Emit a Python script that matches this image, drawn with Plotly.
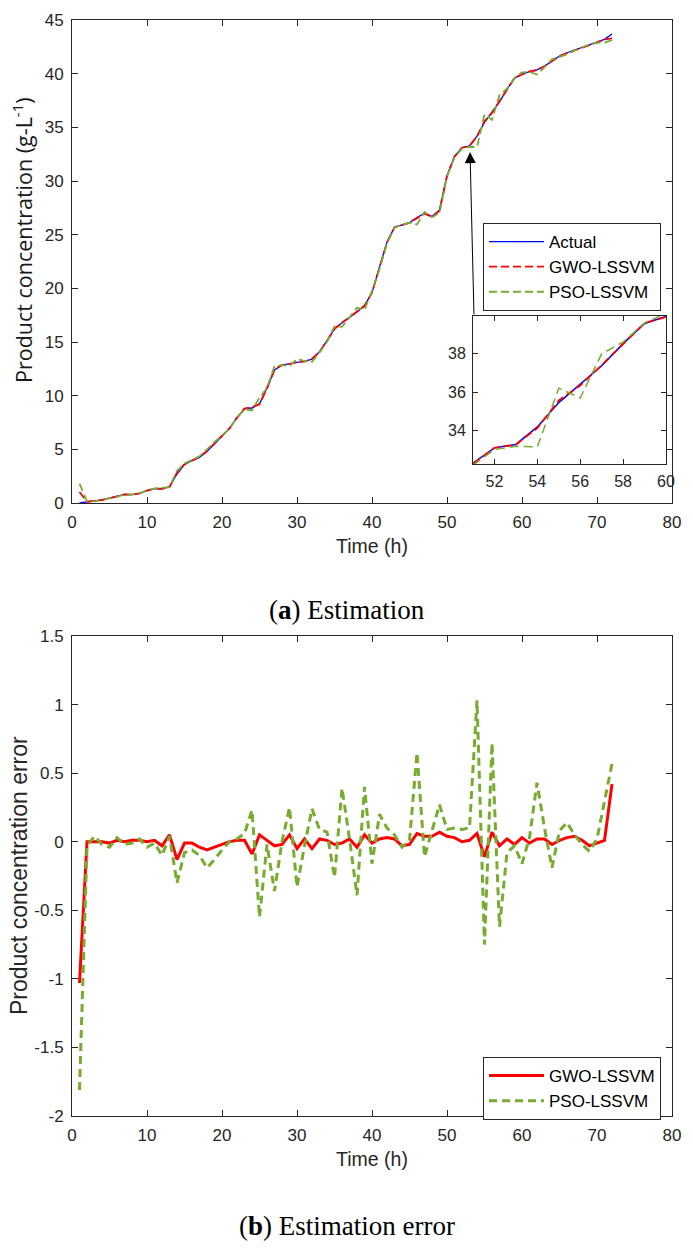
import plotly.graph_objects as go

# ---------------- data ----------------
hours = list(range(1, 73))

actual = [0.0, 0.12, 0.2, 0.28, 0.43, 0.6, 0.8, 0.78, 0.9, 1.15,
          1.34, 1.3, 1.52, 2.7, 3.6, 3.95, 4.25, 4.8, 5.55, 6.2,
          6.95, 7.95, 8.8, 8.85, 9.25, 10.7, 12.4, 12.85, 13.0, 13.1,
          13.2, 13.4, 14.1, 15.1, 16.2, 16.8, 17.3, 17.8, 18.4, 19.6,
          22.0, 24.3, 25.7, 25.9, 26.1, 26.6, 27.0, 26.7, 27.3, 30.5,
          32.3, 33.1, 33.28, 34.19, 35.46, 36.42, 37.38, 38.53, 39.58, 39.95,
          40.2, 40.35, 40.7, 41.15, 41.65, 41.95, 42.2, 42.4, 42.65, 42.9,
          43.2, 43.7]

gwo_pred = [1.03, 0.12, 0.2, 0.28, 0.44, 0.59, 0.8, 0.77, 0.89, 1.15,
            1.33, 1.33, 1.47, 2.83, 3.61, 3.96, 4.29, 4.86, 5.59, 6.22,
            6.95, 7.94, 8.79, 8.94, 9.2, 10.69, 12.43, 12.87, 12.95, 13.15,
            13.18, 13.45, 14.08, 15.09, 16.22, 16.81, 17.28, 17.84, 18.35, 19.61,
            21.98, 24.27, 25.68, 25.93, 26.12, 26.54, 26.96, 26.66, 27.23, 30.46,
            32.27, 33.1, 33.27, 34.13, 35.57, 36.35, 37.41, 38.51, 39.6, 39.92,
            40.21, 40.33, 40.68, 41.17, 41.64, 41.92, 42.16, 42.39, 42.68, 42.91,
            43.19, 43.28]

pso_pred = [1.81, 0.15, 0.16, 0.3, 0.47, 0.57, 0.82, 0.79, 0.88, 1.19,
            1.35, 1.4, 1.48, 3.0, 3.68, 4.01, 4.35, 4.99, 5.68, 6.26,
            6.95, 7.93, 8.74, 8.62, 9.8, 10.72, 12.76, 12.85, 12.75, 13.43,
            13.23, 13.16, 14.01, 15.03, 16.46, 16.41, 17.28, 18.19, 18.0, 19.76,
            21.8, 24.2, 25.65, 25.94, 26.09, 25.95, 27.11, 26.62, 27.03, 30.41,
            32.2, 33.01, 33.18, 33.16, 36.21, 35.7, 38.0, 38.61, 39.61, 40.11,
            40.17, 39.92, 40.6, 41.34, 41.57, 41.81, 42.15, 42.42, 42.72, 42.88,
            42.9, 43.13]

gwo_err = [-1.03, 0.0, 0.0, 0.0, -0.01, 0.01, 0.0, 0.01, 0.01, 0.0,
           0.01, -0.03, 0.05, -0.13, -0.01, -0.01, -0.04, -0.06, -0.04, -0.02,
           0.0, 0.01, 0.01, -0.09, 0.05, 0.01, -0.03, -0.02, 0.05, -0.05,
           0.02, -0.05, 0.02, 0.01, -0.02, -0.01, 0.02, -0.04, 0.05, -0.01,
           0.02, 0.03, 0.02, -0.03, -0.02, 0.06, 0.04, 0.04, 0.07, 0.04,
           0.03, 0.0, 0.01, 0.06, -0.11, 0.07, -0.03, 0.02, -0.02, 0.03,
           -0.01, 0.02, 0.02, -0.02, 0.01, 0.03, 0.04, 0.01, -0.03, -0.01,
           0.01, 0.42]

pso_err = [-1.81, -0.03, 0.04, -0.02, -0.04, 0.03, -0.02, -0.01, 0.02, -0.04,
           -0.01, -0.1, 0.04, -0.3, -0.08, -0.06, -0.1, -0.19, -0.13, -0.06,
           0.0, 0.02, 0.06, 0.23, -0.55, -0.02, -0.36, 0.0, 0.25, -0.33,
           -0.03, 0.24, 0.09, 0.07, -0.26, 0.39, 0.02, -0.39, 0.4, -0.16,
           0.2, 0.1, 0.05, -0.04, 0.01, 0.65, -0.11, 0.08, 0.27, 0.09,
           0.1, 0.09, 0.1, 1.03, -0.75, 0.72, -0.62, -0.08, -0.03, -0.16,
           0.03, 0.43, 0.1, -0.19, 0.08, 0.14, 0.05, -0.02, -0.07, 0.02,
           0.3, 0.57]

time_ticks = [0, 10, 20, 30, 40, 50, 60, 70, 80]
conc_ticks = [0, 5, 10, 15, 20, 25, 30, 35, 40, 45]
err_ticks = [1.5, 1, 0.5, 0, -0.5, -1, -1.5, -2]
err_labels = ["1.5", "1", "0.5", "0", "-0.5", "-1", "-1.5", "-2"]
inset_x_ticks = [52, 54, 56, 58, 60]
inset_y_ticks = [34, 36, 38]
zoom_first, zoom_last = 51, 60

# ---------------- styling ----------------
AX = "#262626"
BLUE = "#0000FF"
RED = "#FF0000"
GREEN = "#77AC30"
SANS = "Liberation Sans, Arial, sans-serif"
TICKFONT = dict(family=SANS, size=17, color=AX)
TITLEFONT = dict(family=SANS, size=19.5, color=AX)

W, H = 693, 1250


def px_x(p):
    return p / W


def px_y(p):
    return 1 - p / H


def axis_style(**kw):
    d = dict(showline=True, linecolor=AX, linewidth=1, mirror="ticks",
             ticks="inside", ticklen=6, tickcolor=AX, tickwidth=1,
             showgrid=False, zeroline=False, tickfont=TICKFONT,
             automargin=False)
    d.update(kw)
    return d


i0 = hours.index(zoom_first)
i1 = hours.index(zoom_last) + 1

fig = go.Figure()

# top chart
fig.add_trace(go.Scatter(x=hours, y=actual, mode="lines", name="Actual",
                         line=dict(color=BLUE, width=1.3),
                         xaxis="x", yaxis="y", legend="legend"))
fig.add_trace(go.Scatter(x=hours, y=gwo_pred, mode="lines", name="GWO-LSSVM",
                         line=dict(color=RED, width=1.8, dash="8px,4px"),
                         xaxis="x", yaxis="y", legend="legend"))
fig.add_trace(go.Scatter(x=hours, y=pso_pred, mode="lines", name="PSO-LSSVM",
                         line=dict(color=GREEN, width=1.8, dash="8px,4px"),
                         xaxis="x", yaxis="y", legend="legend"))

# inset
fig.add_trace(go.Scatter(x=hours[i0:i1], y=actual[i0:i1], mode="lines",
                         line=dict(color=BLUE, width=1.5), showlegend=False,
                         xaxis="x3", yaxis="y3"))
fig.add_trace(go.Scatter(x=hours[i0:i1], y=gwo_pred[i0:i1], mode="lines",
                         line=dict(color=RED, width=1.8, dash="8px,4px"),
                         showlegend=False, xaxis="x3", yaxis="y3"))
fig.add_trace(go.Scatter(x=hours[i0:i1], y=pso_pred[i0:i1], mode="lines",
                         line=dict(color=GREEN, width=1.5, dash="9px,5px"),
                         showlegend=False, xaxis="x3", yaxis="y3"))

# bottom chart
fig.add_trace(go.Scatter(x=hours, y=gwo_err, mode="lines", name="GWO-LSSVM",
                         line=dict(color=RED, width=3),
                         xaxis="x2", yaxis="y2", legend="legend2"))
fig.add_trace(go.Scatter(x=hours, y=pso_err, mode="lines", name="PSO-LSSVM",
                         line=dict(color=GREEN, width=3, dash="8px,5px"),
                         xaxis="x2", yaxis="y2", legend="legend2"))

LEGFONT = dict(family=SANS, size=17, color="#000")

fig.update_layout(
    width=W, height=H, template="none",
    paper_bgcolor="white", plot_bgcolor="white",
    margin=dict(l=0, r=0, t=0, b=0),
    showlegend=True,
    xaxis=axis_style(domain=[px_x(72), px_x(672)], range=[0, 80],
                     tickvals=time_ticks, anchor="y", ticklabelstandoff=4,
                     title=dict(text="Time (h)", font=TITLEFONT, standoff=7)),
    yaxis=axis_style(domain=[px_y(503), px_y(20)], range=[0, 45],
                     tickvals=conc_ticks, anchor="x", ticklabelstandoff=4),
    xaxis2=axis_style(domain=[px_x(72), px_x(672)], range=[0, 80],
                      tickvals=time_ticks, anchor="y2", ticklabelstandoff=4,
                      title=dict(text="Time (h)", font=TITLEFONT, standoff=7)),
    yaxis2=axis_style(domain=[px_y(1116), px_y(636)], range=[-2, 1.5],
                      tickvals=err_ticks, ticktext=err_labels, anchor="x2",
                      ticklabelstandoff=4),
    xaxis3=axis_style(domain=[px_x(473), px_x(666)], range=[zoom_first, zoom_last],
                      tickvals=inset_x_ticks, anchor="y3", ticklen=5,
                      tickfont=dict(TICKFONT, size=16), ticklabelstandoff=3),
    yaxis3=axis_style(domain=[px_y(464), px_y(316)], range=[32.26, 39.97],
                      tickvals=inset_y_ticks, anchor="x3", ticklen=5,
                      tickfont=dict(TICKFONT, size=16), ticklabelstandoff=3),
    legend=dict(x=px_x(483), y=px_y(223), xanchor="left", yanchor="top",
                bgcolor="white", bordercolor=AX, borderwidth=1,
                font=LEGFONT, itemwidth=55, tracegroupgap=0),
    legend2=dict(x=px_x(483), y=px_y(1057), xanchor="left", yanchor="top",
                 bgcolor="white", bordercolor=AX, borderwidth=1,
                 font=LEGFONT, itemwidth=55, tracegroupgap=0),
)

# y-axis titles
fig.add_annotation(x=px_x(23), y=px_y(240), xref="paper", yref="paper",
                   text="Product concentration (g-L<sup>-1</sup>)", textangle=-90,
                   showarrow=False, xanchor="center", yanchor="middle",
                   font=dict(family="Open Sans, Lato, sans-serif", size=21.5, color="#1a1a1a"))
fig.add_annotation(x=px_x(19), y=px_y(876), xref="paper", yref="paper",
                   text="Product concentration error", textangle=-90,
                   showarrow=False, xanchor="center", yanchor="middle",
                   font=dict(family=SANS, size=23, color=AX))

# arrow pointing from the inset to the zoomed region
fig.add_annotation(x=53.07, y=32.7, ax=53.6, ay=17.43, xref="x", yref="y",
                   axref="x", ayref="y", text="", showarrow=True,
                   arrowhead=2, arrowsize=2.2, arrowwidth=1, arrowcolor="#000")

# captions
CAPFONT = dict(family="Liberation Serif, Times New Roman, serif", size=27, color="#000")
fig.add_annotation(x=0.5, y=px_y(610), xref="paper", yref="paper",
                   text="(<b>a</b>) Estimation", showarrow=False, font=CAPFONT,
                   xanchor="center", yanchor="middle")
fig.add_annotation(x=0.5, y=px_y(1226), xref="paper", yref="paper",
                   text="(<b>b</b>) Estimation error", showarrow=False, font=CAPFONT,
                   xanchor="center", yanchor="middle")

fig.write_html("out.html", config={"displayModeBar": False},
               post_script="document.body.style.margin='0px';")
